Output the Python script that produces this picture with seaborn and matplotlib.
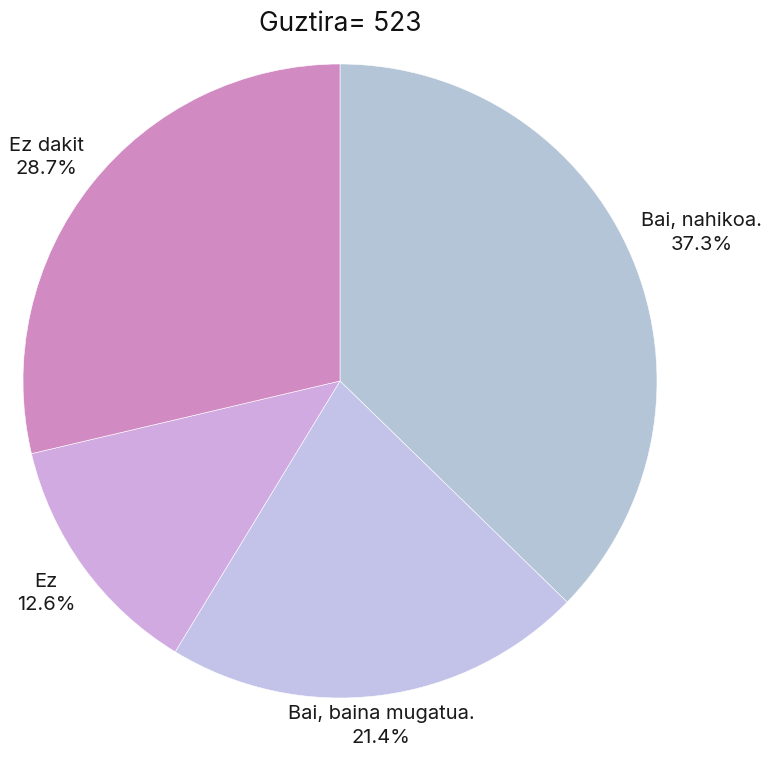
import numpy as np
import matplotlib
matplotlib.use("Agg")
import matplotlib.pyplot as plt
import seaborn as sns

categories = ["Bai, nahikoa.", "Bai, baina mugatua.", "Ez", "Ez dakit"]
counts = [195, 112, 66, 150]
colors = ["#b3c5d7", "#c3c3e9", "#d2aae2", "#d28ac2"]

sns.set_theme(style="white")
plt.rcParams['font.family'] = ['Inter', 'DejaVu Sans']

W, H = 767, 758
fig = plt.figure(figsize=(W / 100, H / 100), dpi=100)
cx, cy, R = 340, 381, 317
ax = fig.add_axes([(cx - R) / W, (H - cy - R) / H, 2 * R / W, 2 * R / H])

total = sum(counts)
wedges, _ = ax.pie(counts, colors=colors, startangle=90, counterclock=False,
                   radius=1.0, wedgeprops=dict(edgecolor="white", linewidth=0.4))
ax.set_xlim(-1, 1)
ax.set_ylim(-1, 1)
ax.set_aspect("equal")
ax.axis("off")

for w, lab, c in zip(wedges, categories, counts):
    ang = np.deg2rad((w.theta1 + w.theta2) / 2)
    ca, sa = np.cos(ang), np.sin(ang)
    if abs(ca) < 0.3:
        ha = "center"
    else:
        ha = "left" if ca > 0 else "right"
    va = "bottom" if sa > 0 else "top"
    ax.annotate(f"{lab}\n{100 * c / total:.1f}%", xy=(ca * 1.0, sa * 1.0),
                xytext=(ca * 7, sa * 7), textcoords="offset points",
                ha=ha, va=va, multialignment="center", fontsize=14.5,
                color="#1a1a1a", linespacing=1.4, annotation_clip=False)

fig.text(cx / W, 1 - 24 / H, f"Guztira= {total}", ha="center", va="center",
         fontsize=19, color="#111111")

fig.savefig("out.png", dpi=100)
